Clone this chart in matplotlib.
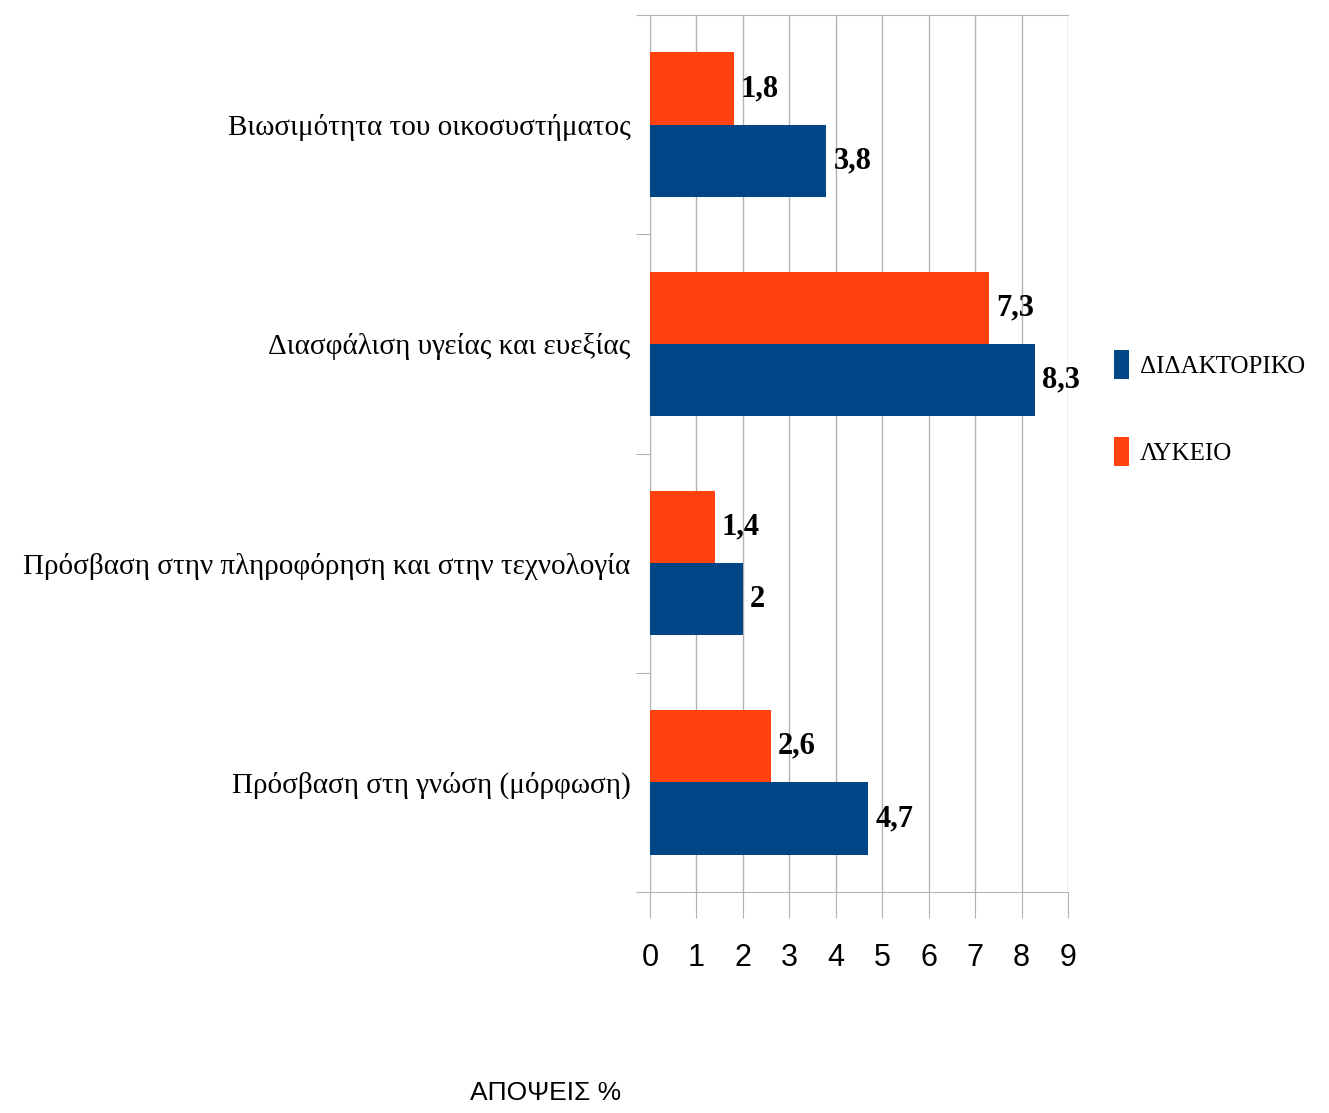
import numpy as np
import matplotlib
matplotlib.use("Agg")
import matplotlib.pyplot as plt

categories = ["Βιωσιμότητα του οικοσυστήματος",
              "Διασφάλιση υγείας και ευεξίας",
              "Πρόσβαση στην πληροφόρηση και στην τεχνολογία",
              "Πρόσβαση στη γνώση (μόρφωση)"]
series_names = ["ΔΙΔΑΚΤΟΡΙΚΟ", "ΛΥΚΕΙΟ"]
didaktoriko = [3.8, 8.3, 2.0, 4.7]
lykeio = [1.8, 7.3, 1.4, 2.6]
x_ticks = list(range(0, 10))
x_label = "ΑΠΟΨΕΙΣ %"

blue = "#004586"
orange = "#ff420e"
grid_c = "#b3b3b3"
serif = "Liberation Serif"
sans = "Liberation Sans"

fig = plt.figure(figsize=(13.29, 11.13), dpi=100)
ax = fig.add_axes([650 / 1329, 1 - 892 / 1113, 418 / 1329, 877 / 1113])

y = np.arange(len(categories))
h = 0.33
ax.barh(y + h / 2, didaktoriko, height=h, color=blue, label=series_names[0], zorder=3)
ax.barh(y - h / 2, lykeio, height=h, color=orange, label=series_names[1], zorder=3)

# value labels, decimal comma
for yi, v in zip(y, didaktoriko):
    ax.annotate(("%g" % v).replace(".", ","), (v, yi + h / 2), xytext=(5, 0),
                textcoords="offset points", va="center", ha="left",
                family=serif, fontsize=22, fontweight="bold")
for yi, v in zip(y, lykeio):
    ax.annotate(("%g" % v).replace(".", ","), (v, yi - h / 2), xytext=(5, 0),
                textcoords="offset points", va="center", ha="left",
                family=serif, fontsize=22, fontweight="bold")

ax.set_xlim(0, 9)
ax.set_ylim(3.5, -0.5)
ax.set_xticks(x_ticks)
ax.set_xticklabels([str(t) for t in x_ticks], family=sans, fontsize=22)
ax.tick_params(axis="x", length=19, color=grid_c, pad=18)
ax.set_yticks(np.arange(-0.5, len(categories), 1.0))
ax.set_yticklabels([])
ax.set_yticks(y, minor=True)
ax.set_yticklabels(categories, minor=True, family=serif, fontsize=21)
ax.tick_params(axis="y", which="major", length=10, color=grid_c)
ax.tick_params(axis="y", which="minor", length=0, pad=14)
ax.grid(axis="x", color=grid_c, linewidth=1, zorder=0)
for s in ax.spines.values():
    s.set_color(grid_c)
ax.spines["right"].set_visible(False)

fig.text(546 / 1329, 1 - 1093 / 1113, x_label, family=sans, fontsize=19,
         ha="center", va="center")

fig.legend(loc="center left", bbox_to_anchor=(1091 / 1329, 1 - 408 / 1113),
           frameon=False, prop={"family": serif, "size": 18},
           handlelength=0.6, handleheight=1.4, handletextpad=0.45,
           labelspacing=2.3)

fig.savefig("out.png", dpi=100)
